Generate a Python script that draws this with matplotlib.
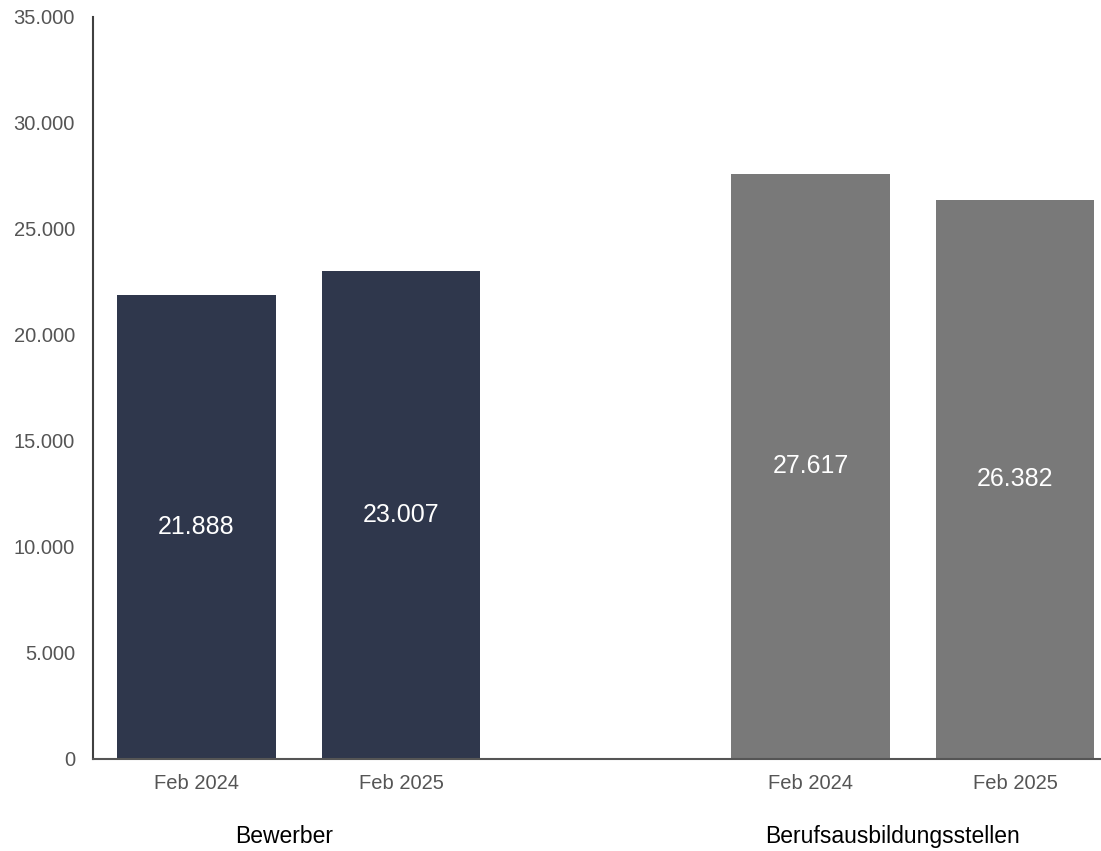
import matplotlib
matplotlib.use('Agg')
import matplotlib.pyplot as plt
from matplotlib.ticker import FuncFormatter

plt.rcParams['font.family'] = ['Liberation Sans', 'DejaVu Sans']

groups = ["Bewerber", "Berufsausbildungsstellen"]
periods = ["Feb 2024", "Feb 2025"]
bewerber = [21888, 23007]
stellen = [27617, 26382]
colors = ["#2f374c", "#797979"]

positions = [[0, 1], [3, 4]]
group_label_x = [0.43, 3.40]


def de_format(v, _pos=None):
    return f"{int(round(v)):,}".replace(",", ".")


fig = plt.figure(figsize=(11.01, 8.51), dpi=100)
ax = fig.add_axes([93 / 1101, 92 / 851, 1 - 93 / 1101, 742 / 851])

for xs, vals, color in zip(positions, [bewerber, stellen], colors):
    bars = ax.bar(xs, vals, width=0.773, color=color)
    for bar, v in zip(bars, vals):
        ax.text(bar.get_x() + bar.get_width() / 2, v / 2, de_format(v),
                ha='center', va='center', color='white', fontsize=18)

ax.set_ylim(0, 35000)
ax.set_xlim(-0.506, 4.42)
ax.set_yticks(range(0, 35001, 5000))
ax.yaxis.set_major_formatter(FuncFormatter(de_format))
ax.set_xticks([p for xs in positions for p in xs])
ax.set_xticklabels(periods * 2)
ax.tick_params(axis='y', length=0, pad=13, labelsize=14.5, labelcolor='#555555')
ax.tick_params(axis='x', length=0, pad=11, labelsize=14.5, labelcolor='#555555')

for gx, name in zip(group_label_x, groups):
    ax.text(gx, -0.104, name, transform=ax.get_xaxis_transform(),
            ha='center', va='center', fontsize=16.5, color='black')

ax.spines['top'].set_visible(False)
ax.spines['right'].set_visible(False)
ax.spines['left'].set_color('#404040')
ax.spines['left'].set_linewidth(1.5)
ax.spines['bottom'].set_color('#555555')
ax.spines['bottom'].set_linewidth(1.5)

fig.savefig("out.png", dpi=100)
